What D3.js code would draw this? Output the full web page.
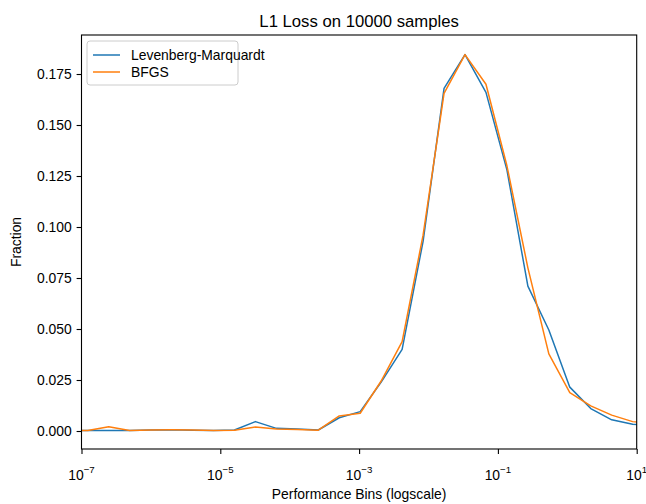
<!DOCTYPE html>
<html>
<head>
<meta charset="utf-8">
<script src="https://cdn.jsdelivr.net/npm/d3@7"></script>
<style>
    body { margin: 0; background: #fff; }
    text { font-family: "Liberation Sans", Arial, sans-serif; fill: #000; }
</style>
</head>
<body>
<script>
// bin centres (log10 of the performance value)
const binExp = [-7.212, -6.910, -6.608, -6.306, -6.004, -5.702, -5.400, -5.098, -4.796, -4.494,
    -4.192, -3.890, -3.588, -3.286, -2.984, -2.682, -2.380, -2.078, -1.776, -1.474,
    -1.172, -0.870, -0.568, -0.266, 0.036, 0.338, 0.640, 0.942, 1.244];
const lmValues = [0.0003, 0.0002, 0.0002, 0.0003, 0.0005, 0.0006, 0.0004, 0.0003, 0.0005, 0.0046,
    0.0013, 0.0010, 0.0005, 0.0065, 0.0095, 0.0240, 0.0400, 0.0930, 0.1680, 0.1845,
    0.1660, 0.1280, 0.0710, 0.0495, 0.0215, 0.0110, 0.0055, 0.0033, 0.0025];
const bfgsValues = [0.0003, 0.0002, 0.0021, 0.0003, 0.0005, 0.0006, 0.0005, 0.0003, 0.0004, 0.0020,
    0.0010, 0.0007, 0.0004, 0.0074, 0.0087, 0.0245, 0.0438, 0.0960, 0.1655, 0.1845,
    0.1700, 0.1300, 0.0800, 0.0378, 0.0188, 0.0123, 0.0078, 0.0046, 0.0035];
const seriesNames = ["Levenberg-Marquardt", "BFGS"];
const colors = ["#1f77b4", "#ff7f0e"];
const xTickExp = [-7, -5, -3, -1, 1];
const yTicks = [0, 0.025, 0.05, 0.075, 0.1, 0.125, 0.15, 0.175];

const W = 646, H = 504;
const plotLeft = 81.5, plotRight = 636.7, plotTop = 35, plotBottom = 449;

const svg = d3.select("body").append("svg")
    .attr("width", W)
    .attr("height", H);

const x = d3.scaleLog().domain([1e-7, 1e1]).range([plotLeft, plotRight]);
const y = d3.scaleLinear().domain([-0.00882, 0.19412]).range([plotBottom, plotTop]);

svg.append("defs").append("clipPath").attr("id", "plot")
    .append("rect")
    .attr("x", plotLeft).attr("y", plotTop)
    .attr("width", plotRight - plotLeft).attr("height", plotBottom - plotTop);

// lines
const line = d3.line()
    .x(d => x(d[0]))
    .y(d => y(d[1]));

[lmValues, bfgsValues].forEach(function (vals, i) {
    const pts = binExp.map((e, j) => [Math.pow(10, e), vals[j]]);
    svg.append("path")
        .datum(pts)
        .attr("clip-path", "url(#plot)")
        .attr("d", line)
        .attr("fill", "none")
        .attr("stroke", colors[i])
        .attr("stroke-width", 1.5)
        .attr("stroke-linejoin", "round");
});

// y axis
const yAxis = svg.append("g")
    .attr("transform", "translate(" + plotLeft + ",0)")
    .call(d3.axisLeft(y).tickValues(yTicks).tickFormat(d3.format(".3f")).tickSizeOuter(0).tickSize(4.9).tickPadding(4.9));
yAxis.select(".domain").remove();
yAxis.selectAll("line").attr("stroke", "#000").attr("stroke-width", 1.1);
yAxis.selectAll("text").style("font-size", "13.9px").attr("font-family", null);

// x axis, labels drawn by hand for the superscript
const xAxis = svg.append("g")
    .attr("transform", "translate(0," + plotBottom + ")")
    .call(d3.axisBottom(x).tickValues(xTickExp.map(e => Math.pow(10, e))).tickFormat("").tickSizeOuter(0).tickSize(4.9));
xAxis.select(".domain").remove();
xAxis.selectAll("line").attr("stroke", "#000").attr("stroke-width", 1.1);

xTickExp.forEach(function (e) {
    const t = svg.append("text")
        .attr("x", x(Math.pow(10, e)))
        .attr("y", 480)
        .attr("text-anchor", "middle")
        .style("font-size", "13.9px");
    t.append("tspan").text("10");
    t.append("tspan")
        .attr("dy", -7)
        .style("font-size", "9.7px")
        .text(e < 0 ? "\u2212" + (-e) : String(e));
});

// frame
svg.append("rect")
    .attr("x", plotLeft).attr("y", plotTop)
    .attr("width", plotRight - plotLeft).attr("height", plotBottom - plotTop)
    .attr("fill", "none")
    .attr("stroke", "#000")
    .attr("stroke-width", 1.1);

// title and axis labels
svg.append("text")
    .attr("x", (plotLeft + plotRight) / 2)
    .attr("y", 27)
    .attr("text-anchor", "middle")
    .style("font-size", "16.7px")
    .text("L1 Loss on 10000 samples");

svg.append("text")
    .attr("x", (plotLeft + plotRight) / 2)
    .attr("y", 498.5)
    .attr("text-anchor", "middle")
    .style("font-size", "13.9px")
    .text("Performance Bins (logscale)");

svg.append("text")
    .attr("transform", "translate(21," + (plotTop + plotBottom) / 2 + ") rotate(-90)")
    .attr("text-anchor", "middle")
    .style("font-size", "13.9px")
    .text("Fraction");

// legend
const legend = svg.append("g").attr("transform", "translate(87,41)");
legend.append("rect")
    .attr("width", 151).attr("height", 44)
    .attr("rx", 3)
    .attr("fill", "#fff")
    .attr("fill-opacity", 0.8)
    .attr("stroke", "#ccc")
    .attr("stroke-width", 1);
seriesNames.forEach(function (name, i) {
    legend.append("line")
        .attr("x1", 6).attr("x2", 33)
        .attr("y1", 14 + i * 17).attr("y2", 14 + i * 17)
        .attr("stroke", colors[i])
        .attr("stroke-width", 1.5);
    legend.append("text")
        .attr("x", 44)
        .attr("y", 19 + i * 17)
        .style("font-size", "13.9px")
        .text(name);
});
</script>
</body>
</html>
